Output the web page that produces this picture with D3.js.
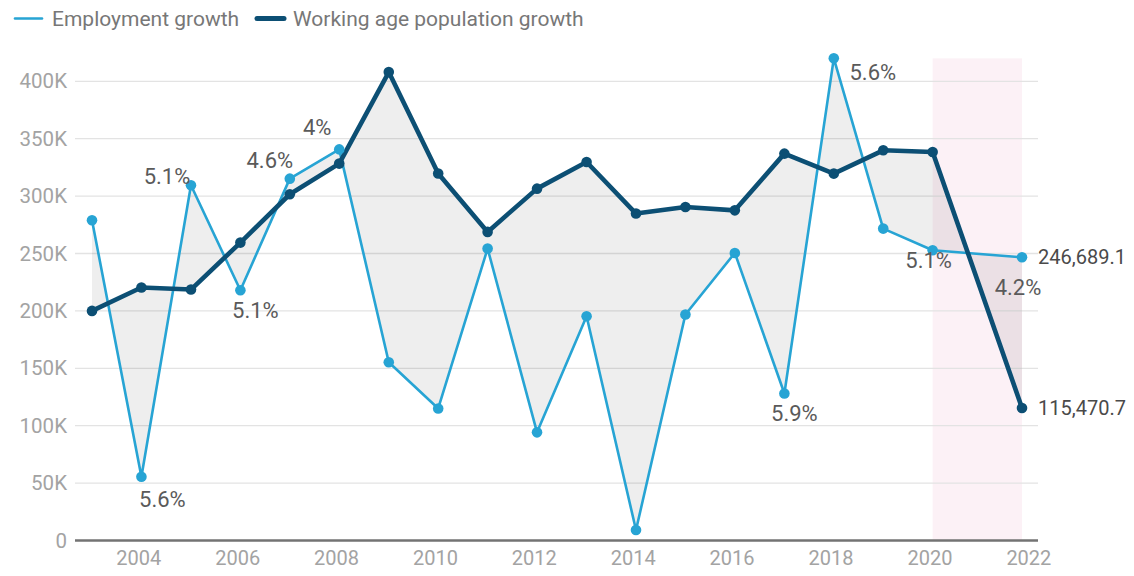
<!DOCTYPE html>
<html>
<head>
<meta charset="utf-8">
<script src="https://cdn.jsdelivr.net/npm/d3@7"></script>
<style>
  html, body { margin: 0; padding: 0; background: #fff; }
  svg { display: block; font-family: Roboto, "Noto Sans", sans-serif; }
</style>
</head>
<body>
<svg id="chart" width="1134" height="576"></svg>
<script>
// ---- data ----
const periods = ["2003-01-25","2004-01-25","2005-01-25","2006-01-25","2007-01-25","2008-01-25",
  "2009-01-25","2010-01-25","2011-01-25","2012-01-25","2013-01-25","2014-01-25","2015-01-25",
  "2016-01-25","2017-01-25","2018-01-25","2019-01-25","2020-01-25","2021-11-15"];
const employment = [279000, 55500, 309500, 218000, 315200, 340700, 155300, 115000, 254300,
  94200, 195400, 9100, 196900, 250500, 128000, 420000, 271700, 252800, 246689.1];
const workingAge = [200000, 220400, 218600, 259500, 301600, 328300, 408000, 319700, 268800,
  306500, 329700, 284800, 290500, 287600, 337000, 319600, 339900, 338400, 115470.7];
const growthLabels = ["", "5.6%", "5.1%", "5.1%", "4.6%", "4%", "", "", "", "", "", "", "",
  "", "5.9%", "5.6%", "", "5.1%", "4.2%"];
const seriesNames = ["Employment growth", "Working age population growth"];
const yTicks = [0, 50000, 100000, 150000, 200000, 250000, 300000, 350000, 400000];
const xTickYears = [2004, 2006, 2008, 2010, 2012, 2014, 2016, 2018, 2020, 2022];
const highlightFrom = 17, highlightTo = 18; // indices of highlighted period

// ---- styles ----
const cLight = "#27a4d4", cDark = "#0c4f74";
const parse = d3.timeParse("%Y-%m-%d");
const dates = periods.map(parse);

const svg = d3.select("#chart");
const x = d3.scaleTime().domain([dates[0], dates[dates.length - 1]]).range([92, 1022]);
const y = d3.scaleLinear().domain([0, 400000]).range([540.5, 81.3]);
const gridX0 = 75, gridX1 = 1038;

// highlight band
svg.append("rect")
  .attr("x", x(dates[highlightFrom]))
  .attr("width", x(dates[highlightTo]) - x(dates[highlightFrom]))
  .attr("y", y(d3.max(employment)))
  .attr("height", y(0) - y(d3.max(employment)))
  .attr("fill", "#fcf1f6");

// gridlines
svg.append("g").selectAll("line").data(yTicks.filter(d => d > 0)).join("line")
  .attr("x1", gridX0).attr("x2", gridX1)
  .attr("y1", d => y(d)).attr("y2", d => y(d))
  .attr("stroke", "#e3e3e3").attr("stroke-width", 1.3);

// y tick labels
const yAxis = d3.axisLeft(y).tickValues(yTicks)
  .tickFormat(d => d === 0 ? "0" : (d / 1000) + "K").tickSize(0).tickPadding(0);
const gy = svg.append("g").attr("transform", "translate(67,0)").call(yAxis);
gy.select(".domain").remove();
gy.selectAll("text").attr("fill", "#a3a3a3").attr("font-size", 20.5).attr("font-family", "Roboto");

// x axis
const xAxis = d3.axisBottom(x).tickValues(xTickYears.map(yr => new Date(yr, 0, 1)))
  .tickFormat(d3.timeFormat("%Y")).tickSize(0).tickPadding(0);
const gx = svg.append("g").attr("transform", "translate(0,551)").call(xAxis);
gx.select(".domain").remove();
gx.selectAll("text").attr("fill", "#a3a3a3").attr("font-size", 20).attr("font-family", "Roboto")
  .attr("dy", "0.71em");

// area between lines
const idx = d3.range(dates.length);
svg.append("path").datum(idx)
  .attr("d", d3.area().x(i => x(dates[i])).y0(i => y(workingAge[i])).y1(i => y(employment[i])))
  .attr("fill", "rgba(0,0,0,0.065)");

// baseline
svg.append("line").attr("x1", gridX0).attr("x2", gridX1).attr("y1", y(0)).attr("y2", y(0))
  .attr("stroke", "#737373").attr("stroke-width", 2.4);

// lines
const line = vals => d3.line().x(i => x(dates[i])).y(i => y(vals[i]))(idx);
svg.append("path").attr("d", line(employment)).attr("fill", "none")
  .attr("stroke", cLight).attr("stroke-width", 2.6).attr("stroke-linejoin", "round");
svg.append("path").attr("d", line(workingAge)).attr("fill", "none")
  .attr("stroke", cDark).attr("stroke-width", 4.6).attr("stroke-linejoin", "round");

// dots
svg.append("g").selectAll("circle").data(idx).join("circle")
  .attr("cx", i => x(dates[i])).attr("cy", i => y(employment[i])).attr("r", 5.3).attr("fill", cLight);
svg.append("g").selectAll("circle").data(idx).join("circle")
  .attr("cx", i => x(dates[i])).attr("cy", i => y(workingAge[i])).attr("r", 5.3).attr("fill", cDark);

// growth labels (offsets relative to point)
const labelOffsets = {1: [21, 23], 2: [-24, -9], 3: [15, 20], 4: [-20, -18], 5: [-22, -22],
  14: [10, 20], 15: [39, 14], 17: [-4, 10], 18: [-4, 30]};
svg.append("g").selectAll("text").data(idx.filter(i => growthLabels[i])).join("text")
  .attr("x", i => x(dates[i]) + labelOffsets[i][0])
  .attr("y", i => y(employment[i]) + labelOffsets[i][1])
  .attr("text-anchor", "middle").attr("dominant-baseline", "central")
  .attr("font-size", 22).attr("fill", "#5a5a5a")
  .text(i => growthLabels[i]);

// end value labels
const fmt = d3.format(",.1f");
const last = dates.length - 1;
[employment, workingAge].forEach(vals => {
  svg.append("text").attr("x", x(dates[last]) + 16).attr("y", y(vals[last]))
    .attr("dominant-baseline", "central").attr("font-size", 20).attr("fill", "#4a4a4a")
    .text(fmt(vals[last]));
});

// legend
const lg = svg.append("g");
lg.append("line").attr("x1", 15).attr("x2", 42).attr("y1", 18.5).attr("y2", 18.5)
  .attr("stroke", cLight).attr("stroke-width", 2.6).attr("stroke-linecap", "round");
lg.append("text").attr("x", 52).attr("y", 18.5).attr("dominant-baseline", "central")
  .attr("font-size", 21).attr("fill", "#777").text(seriesNames[0]);
lg.append("line").attr("x1", 257).attr("x2", 284).attr("y1", 18.5).attr("y2", 18.5)
  .attr("stroke", cDark).attr("stroke-width", 5).attr("stroke-linecap", "round");
lg.append("text").attr("x", 293).attr("y", 18.5).attr("dominant-baseline", "central")
  .attr("font-size", 21).attr("fill", "#777").text(seriesNames[1]);
</script>
</body>
</html>
